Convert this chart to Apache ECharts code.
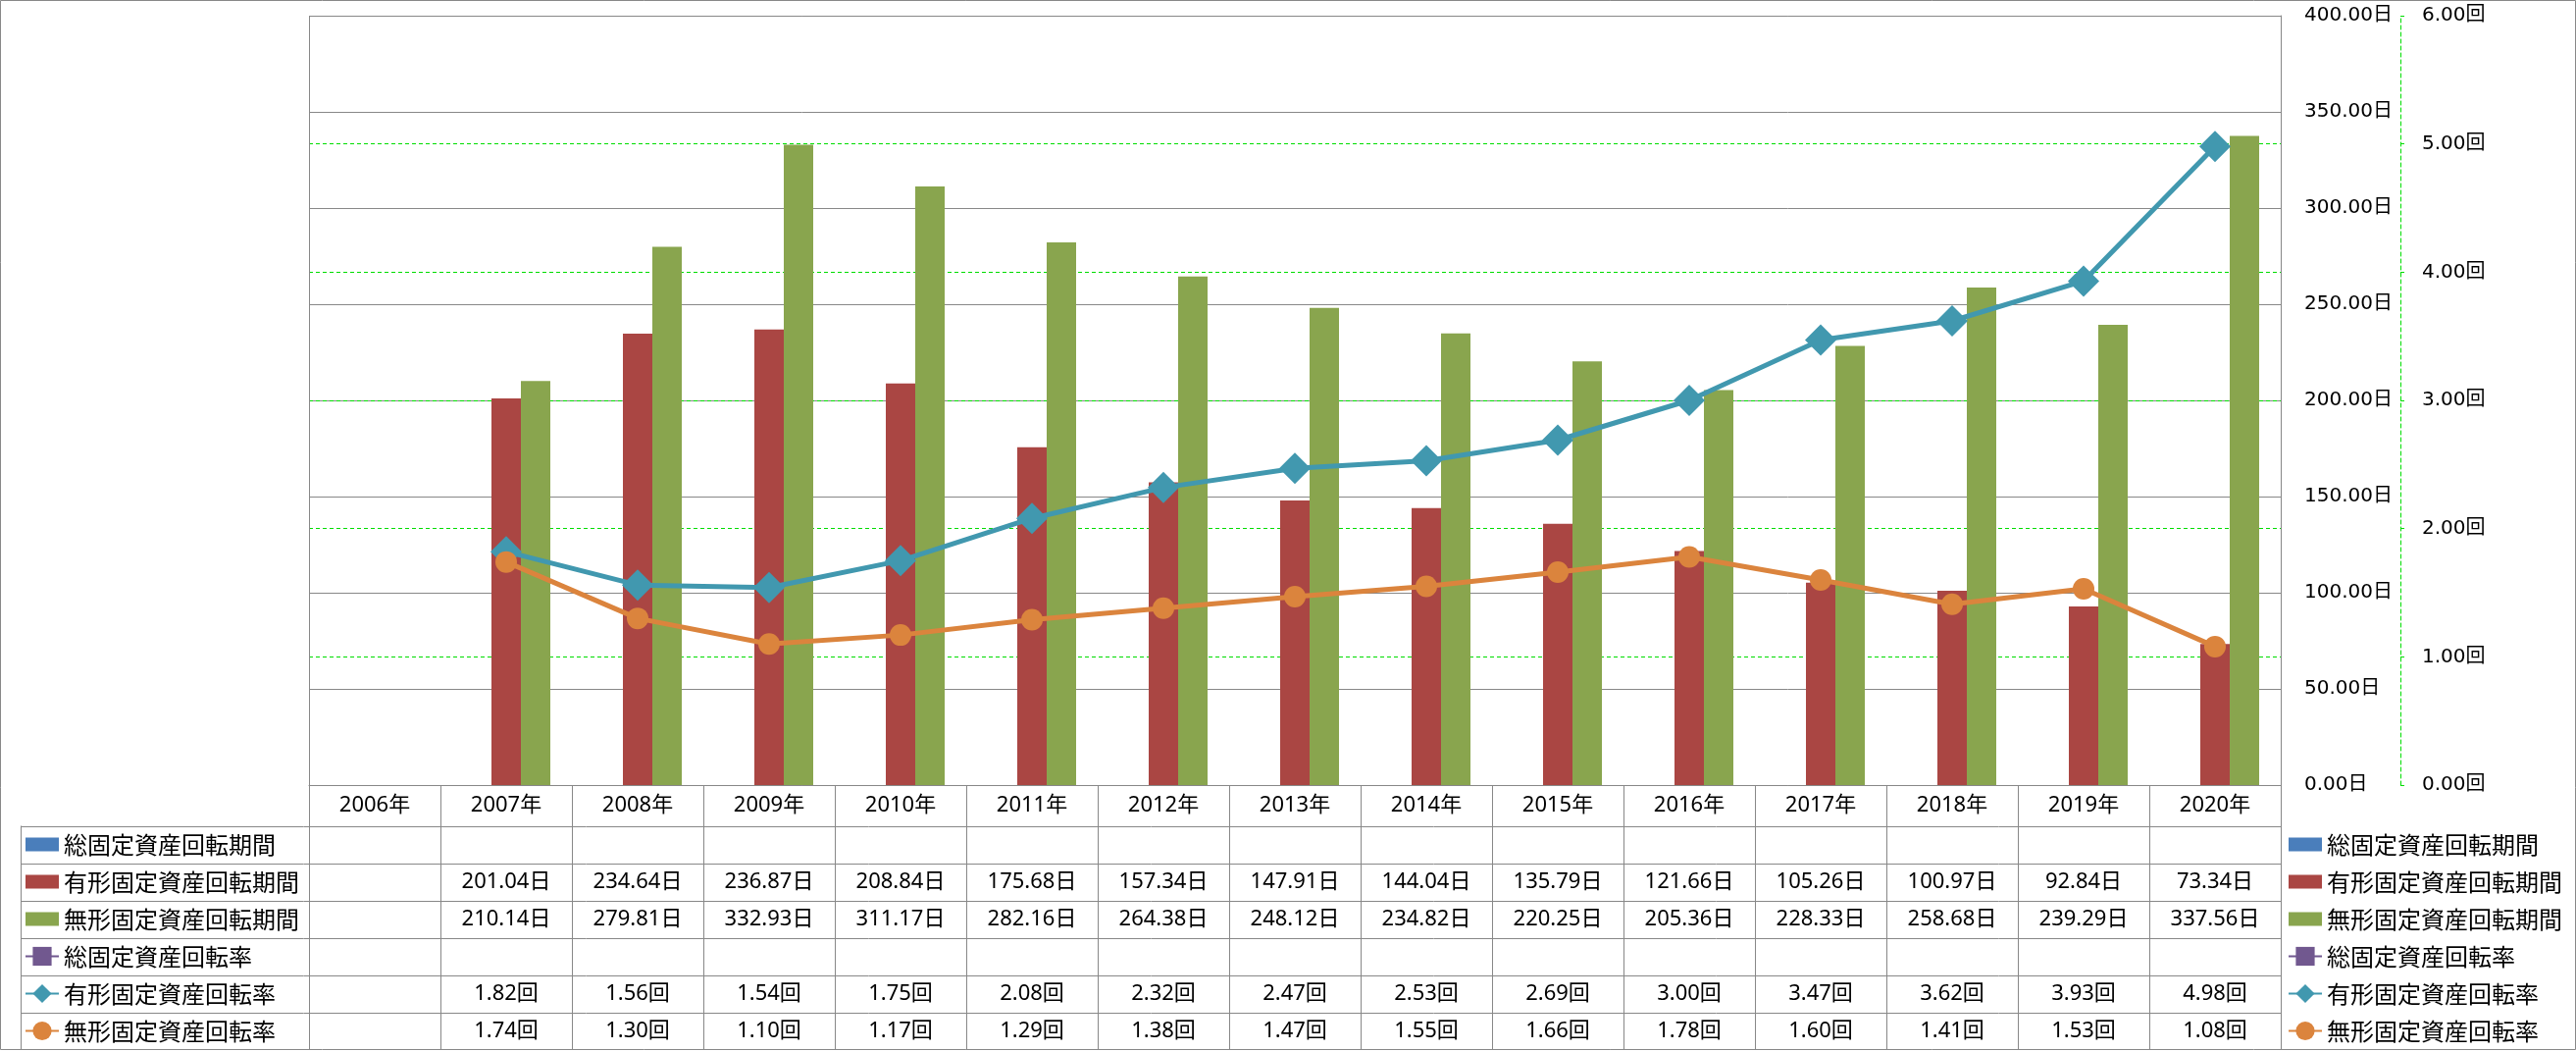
<!DOCTYPE html>
<html><head><meta charset="utf-8">
<script src="https://cdn.jsdelivr.net/npm/echarts@6/dist/echarts.min.js"></script>
<style>html,body{margin:0;padding:0;background:#fff}#c{width:2626px;height:1071px}</style>
</head><body><div id="c"></div>
<script>
// ---- data ----
const years = ['2006年','2007年','2008年','2009年','2010年','2011年','2012年','2013年','2014年','2015年','2016年','2017年','2018年','2019年','2020年'];
const seriesNames = ['総固定資産回転期間','有形固定資産回転期間','無形固定資産回転期間','総固定資産回転率','有形固定資産回転率','無形固定資産回転率'];
const totalPeriod = [null,null,null,null,null,null,null,null,null,null,null,null,null,null,null];
const tangiblePeriod = [null,201.04,234.64,236.87,208.84,175.68,157.34,147.91,144.04,135.79,121.66,105.26,100.97,92.84,73.34];
const intangiblePeriod = [null,210.14,279.81,332.93,311.17,282.16,264.38,248.12,234.82,220.25,205.36,228.33,258.68,239.29,337.56];
const totalRate = [null,null,null,null,null,null,null,null,null,null,null,null,null,null,null];
const tangibleRate = [null,1.82,1.56,1.54,1.75,2.08,2.32,2.47,2.53,2.69,3.00,3.47,3.62,3.93,4.98];
const intangibleRate = [null,1.74,1.30,1.10,1.17,1.29,1.38,1.47,1.55,1.66,1.78,1.60,1.41,1.53,1.08];
const dayAxis = {min: 0, max: 400, interval: 50, unit: '日'};
const rateAxis = {min: 0, max: 6, interval: 1, unit: '回'};

// ---- styling ----
const colors = ['#4A7EBB','#AA4643','#89A54E','#71588F','#4198AF','#DB843D'];
const tableFont = '"Noto Sans","Noto Sans CJK JP",sans-serif';
const axisFont = '"DejaVu Sans","Noto Sans CJK JP",sans-serif';
const legendFont = '"Noto Sans CJK JP","Noto Sans",sans-serif';
const gridColor = '#888888';
const greenDash = '#00dd00';

const PLOT_TOP = 16, PLOT_BOTTOM = 800, PLOT_LEFT = 315, PLOT_RIGHT = 2325;
const HEADER_BOTTOM = 841.5, ROW_H = 38;

const tableRows = [
  [totalPeriod, '日'], [tangiblePeriod, '日'], [intangiblePeriod, '日'],
  [totalRate, '回'], [tangibleRate, '回'], [intangibleRate, '回']
];
const fmt = (v, u) => (v == null ? '' : v.toFixed(2) + u);

const xAxes = [{
  type: 'category', data: years, gridIndex: 0, position: 'bottom',
  axisLine: {show: true, lineStyle: {color: gridColor, width: 1}},
  axisTick: {show: true, interval: 0, length: 1069.5 - PLOT_BOTTOM, lineStyle: {color: gridColor, width: 1}},
  axisLabel: {interval: 0, margin: (HEADER_BOTTOM - PLOT_BOTTOM) / 2, verticalAlign: 'middle', fontSize: 22, fontFamily: tableFont, color: '#000', lineHeight: 22},
  splitLine: {show: false}
}];
tableRows.forEach((r, i) => {
  xAxes.push({
    type: 'category', gridIndex: 0, position: 'bottom',
    data: r[0].map(v => fmt(v, r[1])),
    offset: HEADER_BOTTOM + ROW_H * i + ROW_H / 2 - PLOT_BOTTOM,
    axisLine: {show: false}, axisTick: {show: false}, splitLine: {show: false},
    axisLabel: {interval: 0, margin: 0, verticalAlign: 'middle', fontSize: 22, fontFamily: tableFont, color: '#000', lineHeight: 22}
  });
});

const barSeries = [totalPeriod, tangiblePeriod, intangiblePeriod].map((d, i) => ({
  name: seriesNames[i], type: 'bar', data: d, xAxisIndex: 0, yAxisIndex: 0,
  barWidth: 30, barGap: '0%', itemStyle: {color: colors[i]}
}));
const lineDefs = [[totalRate, 'rect', 22], [tangibleRate, 'diamond', 32], [intangibleRate, 'circle', 22]];
const lineSeries = lineDefs.map((d, i) => ({
  name: seriesNames[3 + i], type: 'line', data: d[0], xAxisIndex: 0, yAxisIndex: 1,
  symbol: d[1], symbolSize: d[2], showAllSymbol: true,
  lineStyle: {color: colors[3 + i], width: 5},
  itemStyle: {color: colors[3 + i]}, z: 5
}));

const legendData = seriesNames.map((n, i) => {
  const o = {name: n};
  if (i < 3) o.icon = 'path://M0,4 L32,4 L32,17 L0,17 Z';
  return o;
});
const mkLegend = (left) => ({
  orient: 'vertical', left: left, top: HEADER_BOTTOM + ROW_H / 2 - 12, padding: 0,
  itemWidth: 34, itemHeight: 24, itemGap: ROW_H - 24,
  selectedMode: false,
  textStyle: {fontSize: 24, lineHeight: 24, fontFamily: legendFont, color: '#000'},
  data: legendData
});

// chart frame and table borders (decoration)
const graphics = [{
  type: 'rect', shape: {x: 0.5, y: 0.5, width: 2625, height: 1069}, silent: true,
  style: {fill: 'none', stroke: gridColor, lineWidth: 1}, z: -10
}, {
  type: 'line', shape: {x1: 21.5, y1: HEADER_BOTTOM, x2: 21.5, y2: 1069.5}, silent: true,
  style: {stroke: gridColor, lineWidth: 1}
}, {
  type: 'line', shape: {x1: PLOT_LEFT + 0.5, y1: PLOT_TOP, x2: PLOT_LEFT + 0.5, y2: PLOT_BOTTOM}, silent: true,
  style: {stroke: gridColor, lineWidth: 1}, z: 10
}, {
  type: 'line', shape: {x1: PLOT_LEFT, y1: PLOT_TOP + 0.5, x2: PLOT_RIGHT, y2: PLOT_TOP + 0.5}, silent: true,
  style: {stroke: gridColor, lineWidth: 1}, z: 10
}];
for (let i = 0; i < 6; i++) {
  const y = Math.round(HEADER_BOTTOM + ROW_H * i) + 0.5;
  graphics.push({type: 'line', shape: {x1: 21.5, y1: y, x2: PLOT_RIGHT + 0.5, y2: y}, silent: true,
    style: {stroke: gridColor, lineWidth: 1}});
}

const option = {
  animation: false,
  backgroundColor: '#fff',
  grid: {left: PLOT_LEFT, right: 2626 - PLOT_RIGHT, top: PLOT_TOP, bottom: 1071 - PLOT_BOTTOM, show: false},
  legend: [mkLegend(25), mkLegend(2332)],
  xAxis: xAxes,
  yAxis: [{
    type: 'value', position: 'right', min: dayAxis.min, max: dayAxis.max, interval: dayAxis.interval,
    axisLine: {show: true, lineStyle: {color: gridColor}}, axisTick: {show: false},
    axisLabel: {margin: 24, align: 'left', fontSize: 20, fontFamily: axisFont, color: '#000',
      formatter: v => v.toFixed(2) + dayAxis.unit},
    splitLine: {show: true, lineStyle: {color: gridColor, width: 1}}
  }, {
    type: 'value', position: 'right', offset: 122, min: rateAxis.min, max: rateAxis.max, interval: rateAxis.interval,
    axisLine: {show: true, lineStyle: {color: greenDash, type: [4, 3], width: 1}},
    axisTick: {show: true, length: 4, lineStyle: {color: greenDash}},
    axisLabel: {margin: 22, align: 'left', fontSize: 20, fontFamily: axisFont, color: '#000',
      formatter: v => v.toFixed(2) + rateAxis.unit},
    splitLine: {show: true, showMinLine: false, showMaxLine: false, lineStyle: {color: greenDash, type: [4, 3], width: 1}}
  }],
  series: barSeries.concat(lineSeries),
  graphic: graphics
};
const chart = echarts.init(document.getElementById('c'), null, {renderer: 'canvas'});
chart.setOption(option);
</script></body></html>
